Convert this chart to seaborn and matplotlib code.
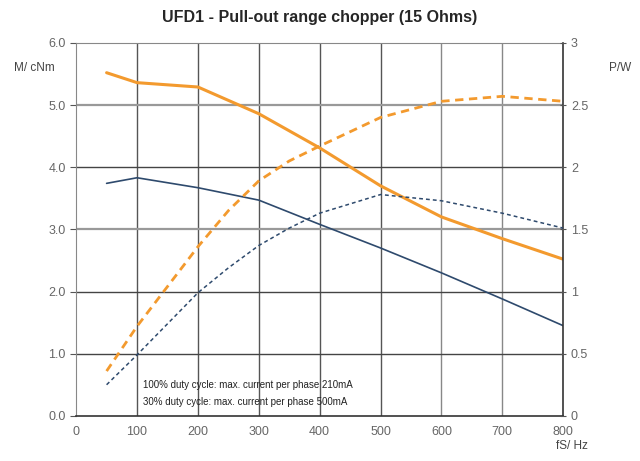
import pandas as pd
import seaborn as sns
import matplotlib.pyplot as plt

# frequency steps (Hz)
freq = [50, 100, 200, 300, 400, 500, 600, 700, 800]
# pull-out torque in cNm
torque_30 = [5.52, 5.36, 5.29, 4.86, 4.31, 3.70, 3.20, 2.85, 2.52]
torque_100 = [3.74, 3.83, 3.67, 3.47, 3.08, 2.70, 2.30, 1.88, 1.45]
# power in W (right axis)
power_freq = [50, 100, 150, 200, 250, 300, 350, 400, 500, 600, 700, 800]
power_30 = [0.36, 0.72, 1.04, 1.36, 1.65, 1.89, 2.05, 2.17, 2.40, 2.53, 2.57, 2.53]
power_100 = [0.25, 0.49, 0.74, 0.99, 1.19, 1.37, 1.51, 1.63, 1.78, 1.73, 1.63, 1.51]

orange = "#F39A2E"
blue = "#2E4A6D"

torque_df = pd.DataFrame({"f": freq, "t30": torque_30, "t100": torque_100})
power_df = pd.DataFrame({"f": power_freq, "p30": power_30, "p100": power_100})

sns.set_style("white")
plt.rcParams["font.family"] = ["Liberation Sans", "DejaVu Sans"]
fig = plt.figure(figsize=(6.4, 4.61), dpi=100)
ax = fig.add_axes([0.119, 0.098, 0.761, 0.809])

# grid
for v in range(100, 800, 100):
    ax.axvline(v, color="#555555" if v < 600 else "#888888", lw=1.0, zorder=0)
for v in [1, 2, 3, 4, 5]:
    ax.axhline(v, color="#999999" if v in (3, 5) else "#444444",
               lw=1.6 if v in (3, 5) else 1.0, zorder=0)

sns.lineplot(data=torque_df, x="f", y="t30", ax=ax, color=orange, lw=2.2)
sns.lineplot(data=torque_df, x="f", y="t100", ax=ax, color=blue, lw=1.2)

ax.set_xlim(0, 800)
ax.set_ylim(0, 6)
ax.set_xticks(range(0, 801, 100))
ax.set_yticks([0, 1, 2, 3, 4, 5, 6])
ax.set_yticklabels([f"{v:.1f}" for v in range(7)])
ax.set_xlabel("")
ax.set_ylabel("")
ax.tick_params(axis="both", labelsize=9, labelcolor="#666666",
               length=4, color="#555555", direction="out")
for s in ["left", "top"]:
    ax.spines[s].set_color("#888888")
for s in ["bottom", "right"]:
    ax.spines[s].set_color("#333333")
    ax.spines[s].set_linewidth(1.2)

ax2 = ax.twinx()
sns.lineplot(data=power_df, x="f", y="p30", ax=ax2, color=orange, lw=2.0,
             linestyle=(0, (3, 2)))
sns.lineplot(data=power_df, x="f", y="p100", ax=ax2, color=blue, lw=1.1,
             linestyle=(0, (2.5, 2)))
ax2.set_ylim(0, 3)
ax2.set_yticks([0, 0.5, 1, 1.5, 2, 2.5, 3])
ax2.set_yticklabels(["0", "0.5", "1", "1.5", "2", "2.5", "3"])
ax2.set_ylabel("")
ax2.tick_params(axis="y", labelsize=9, labelcolor="#666666",
                length=4, color="#555555", direction="inout")
for s in ax2.spines.values():
    s.set_visible(False)

fig.text(0.5, 0.962, "UFD1 - Pull-out range chopper (15 Ohms)",
         ha="center", va="center", fontsize=11.5, fontweight="bold")
fig.text(0.022, 0.852, "M/ cNm", fontsize=8.5, color="#444444", va="center")
fig.text(0.952, 0.852, "P/W", fontsize=8.5, color="#444444", va="center")
fig.text(0.868, 0.033, "fS/ Hz", fontsize=8.5, color="#444444", va="center")

ax.text(110, 0.50, "100% duty cycle: max. current per phase 210mA",
        fontsize=7, color="#222222", va="center")
ax.text(110, 0.22, "30% duty cycle: max. current per phase 500mA",
        fontsize=7, color="#222222", va="center")

fig.savefig("out.png", dpi=100)
